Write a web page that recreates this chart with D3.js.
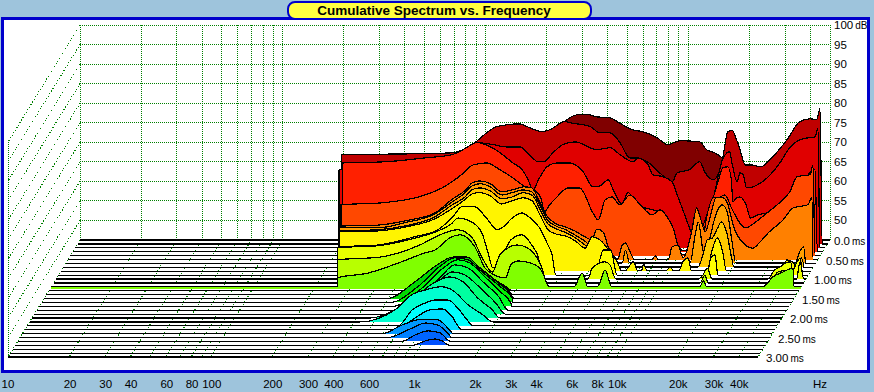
<!DOCTYPE html>
<html>
<head>
<meta charset="utf-8">
<title>Cumulative Spectrum vs. Frequency</title>
<script src="https://cdnjs.cloudflare.com/ajax/libs/d3/7.8.5/d3.min.js"></script>
<style>
  body { margin: 0; background: #9ec4dc; }
  text { font-family: "Liberation Sans", Arial, sans-serif; fill: #000; }
</style>
</head>
<body>
<div id="chart-area"></div>
<script>
// axis values
const titleText = 'Cumulative Spectrum vs. Frequency';
const dbTicks = [100, 95, 90, 85, 80, 75, 70, 65, 60, 55, 50];
const timeTicks = [0, 0.5, 1, 1.5, 2, 2.5, 3];
const freqLabels = [10, 20, 30, 40, 60, 80, 100, 200, 300, 400, 600, 1000, 2000, 3000, 4000, 6000, 8000, 10000, 20000, 30000, 40000];
const freqGrid = [10, 20, 30, 40, 50, 60, 70, 80, 90, 100, 200, 300, 400, 500, 600, 700, 800, 900, 1000,
  2000, 3000, 4000, 5000, 6000, 7000, 8000, 9000, 10000, 20000, 30000, 40000, 50000];

// one list of [Hz, dB] per decay slice, 0.1 ms apart
const t00 = [[200,64.2],[660,65.5],[1170,71.9],[1850,70.6],[2330,73.7],[2460,75.3],[2920,77.1],[3200,77.1],[3530,76.5],[4100,76.3],[4550,75],[5300,73.2],[5950,72.7],[7000,71.2],[7900,69.4],[9100,70.4],[11400,70.1],[12300,68.1],[13500,67.3],[14700,66],[15700,64.2],[17000,60.4],[19000,57.8],[22500,57.8],[35500,60.4],[43500,63],[45800,45]];
const t01 = [[200,67.8],[515,68.1],[700,68.3],[795,69.1],[910,70.9],[1040,73.4],[1170,75],[1510,75.7],[1700,74.7],[1950,73.7],[2130,74.2],[2530,76.3],[2680,76],[3380,75],[3770,73.4],[4230,73.4],[4730,70.9],[5290,67],[5730,67],[6460,66],[7600,62.7],[8580,60.9],[9050,63.2],[10400,64],[11700,66],[12400,63.4],[13600,61.4],[14400,62.7],[15200,67],[16100,73.7],[16900,74],[17800,71.6],[18500,69.1],[19600,65.2],[21200,65.2],[23300,64.7],[26800,67.3],[31500,71.6],[36500,76.3],[40900,77],[44200,76.8],[45900,79.6],[47000,45]];
const t02 = [[200,64.9],[820,68.8],[960,71.9],[1150,71.4],[1340,70.8],[1560,70.8],[1740,68.8],[1920,67],[2040,67],[2270,69.3],[2540,71.4],[2920,72.1],[3740,70.1],[4350,70.6],[4870,68.8],[5640,67],[5960,68],[6700,66.2],[7050,63.7],[7900,63.2],[8770,61.9],[9400,58],[10800,49.6],[11700,45.2],[12400,48.3],[13800,56],[15700,68],[16400,69.3],[16900,69.6],[17300,67],[18400,61.9],[19000,64.2],[19700,63.7],[20500,60.3],[24500,61.9],[29900,66.7],[33400,70.6],[38800,72.9],[44600,73.4],[46100,75.7],[47000,45]];
const t03 = [[213,67.7],[347,68],[546,69],[740,69.8],[840,71.1],[985,72.9],[1150,71.8],[1320,69.8],[1480,67.7],[1650,65.9],[1760,63.4],[1860,60.8],[1980,63.4],[2180,66.7],[2450,67.7],[2830,67.7],[3290,65.4],[3670,61.6],[3980,61.8],[4370,63.4],[4630,60.8],[5100,57.2],[5480,60.1],[5920,57.7],[6420,56.5],[7260,55.7],[8050,55.2],[9020,50.6],[9640,46.7],[10200,45.2],[12000,48],[13400,54.4],[14400,58.8],[15200,62.9],[16100,66.5],[17000,66.7],[17700,63.4],[18000,57.7],[18800,58.8],[19500,59],[20900,57],[22000,53.6],[23800,54.4],[26400,54.9],[32400,57],[38500,60.8],[44800,66],[45800,66],[47000,45]];
const t04 = [[216,58],[344,58.5],[520,60],[680,62.3],[850,65.7],[970,68.2],[1130,68.7],[1310,67],[1520,64.9],[1760,62.6],[1900,62.1],[2090,59.8],[2180,56.2],[2310,58],[2510,60],[2840,62.3],[3250,62.3],[3780,55.9],[4010,54.1],[4340,59.3],[4700,60],[5120,58],[5750,60.5],[6470,58],[7400,55.4],[8100,56.7],[8850,54.6],[9450,51.6],[9900,47.7],[10500,45.2],[12700,45.2],[13800,55.4],[14800,59.8],[15600,59.8],[16900,60.5],[18400,56.7],[21300,52.1],[24700,54.1],[26500,55.4],[30600,58],[35300,61.3],[38400,65.2],[44500,65.7],[46000,68.2],[47000,45]];
const t05 = [[219,53.6],[338,53.8],[460,54.9],[645,56.9],[780,60.3],[915,62.8],[985,64.6],[1075,65.1],[1210,64.4],[1380,62.3],[1550,62.8],[1770,63.6],[1940,63.3],[2120,59.7],[2320,55.9],[2560,54.1],[2850,53.3],[3160,52.3],[3540,50.8],[3840,50],[4060,52.8],[4360,52],[4620,48.2],[4900,45.9],[5140,45.1],[5400,48.5],[5620,49.2],[5910,47],[6220,45],[7570,45],[7880,45.9],[8150,45],[9130,45],[9530,48.2],[10200,48.7],[10800,45.4],[11300,47.4],[11950,52.6],[12600,58.2],[13100,55.9],[13900,52.1],[14700,55.9],[15700,60.8],[17000,60.8],[18000,59],[19000,54.1],[21400,49.2],[23800,47.9],[25900,49.5],[28400,51.8],[33600,55.1],[37700,58.2],[44500,59],[46700,60.8],[47200,45]];
const t06 = [[224,54.3],[348,54.1],[470,55.4],[665,57.7],[805,60.7],[935,63.1],[1010,64.8],[1110,65.4],[1240,64.6],[1420,62.5],[1590,63.1],[1800,63.8],[1990,63.3],[2190,59.7],[2380,56.1],[2610,54.6],[2930,53.6],[3240,52.3],[3640,50.7],[3860,49.7],[4080,50.2],[4470,48.4],[4860,45.1],[5560,45.1],[5770,48.4],[6060,45.1],[12000,45.1],[12800,53],[13200,55.6],[13900,48.4],[14400,46.4],[15000,51],[16100,57.4],[17300,60],[18300,58.2],[19300,51],[20200,45.1],[39600,45.1],[42100,48.4],[43600,49.2],[44500,45.1]];
const t07 = [[230,54.3],[357,54.6],[485,55.6],[680,57.9],[830,61],[960,63],[1035,64.8],[1130,65.3],[1270,64.6],[1460,62.5],[1640,63],[1860,64.1],[2070,63.3],[2250,59.7],[2460,56.1],[2710,54.8],[3040,53.8],[3360,52.5],[3740,50.7],[4050,48.9],[4440,45.1],[13500,45.1],[14500,49.4],[15000,52],[15900,52.5],[16900,55.1],[17600,56.6],[18700,54],[19800,47.4],[20300,45.1],[42300,45.1],[43700,47.4],[45000,45.1]];
const t08 = [[236,55.1],[365,55.3],[500,56.3],[700,58.4],[850,61],[985,63.3],[1070,64.8],[1170,65.1],[1310,64.3],[1490,62.2],[1680,63],[1910,63.8],[2110,63],[2310,59.4],[2530,55.6],[2770,54.5],[3100,54],[3460,52.7],[3850,50.9],[4170,53.8],[4860,51.5],[5120,49.7],[5560,47.4],[5830,45.1],[6050,45.1],[6670,47.4],[7000,45.1],[7300,45.1],[7500,46.8],[7800,45.1],[9650,45.1],[10150,46.1],[10500,45.1],[11150,45.1],[11700,47.4],[12400,48.4],[12900,45.1],[15400,45.1],[16300,50.4],[17300,53.5],[18300,50.4],[19200,45.1],[36400,45.1],[38000,47.9],[40400,47.4],[42900,45.1]];
const t09 = [[243,52.2],[378,52.7],[570,54.8],[745,56.6],[880,59.9],[980,62.5],[1130,62.5],[1300,59.4],[1460,56.6],[1560,57.3],[1730,59.6],[1930,60.9],[2090,59.9],[2360,57.1],[2570,53.2],[2720,50.2],[2840,45],[4420,45],[4880,51.4],[5290,51.4],[5700,45],[15800,45],[16500,49.4],[17300,50.2],[17900,45],[40600,45],[44000,48.4],[45500,49.4],[47000,45]];
const t10 = [[245,53],[385,53.5],[595,55.5],[765,57.3],[890,59.1],[960,60.6],[1120,59.6],[1260,56.8],[1340,52.4],[1430,47.8],[1580,50.6],[1750,55],[1990,56.3],[2220,53.7],[2370,51.2],[2570,45],[4200,45],[4410,47.8],[5100,49.4],[5400,48.6],[5760,45],[14700,45],[15500,46],[16300,47.8],[17200,45],[32400,45],[35000,47.3],[37200,48.1],[39700,49.1],[41900,49.4],[43500,45],[44900,45],[46700,49.4],[48800,45]];
const t11 = [[252,50.9],[407,51.6],[640,54.7],[805,57.3],[985,58.6],[1160,56.5],[1300,51.4],[1460,47.8],[1590,52.2],[1930,54.7],[2180,53.9],[2530,49.6],[2720,45],[15400,45],[16300,47],[16900,45],[34000,45],[37400,47.8],[43000,48.3],[44300,45]];
const t12 = [[258,47.3],[364,48.5],[535,51.4],[700,53.7],[780,54.4],[945,57.8],[1040,58.3],[1230,55.2],[1380,49.8],[1500,48.3],[1740,47.3],[1850,50.6],[2000,51.6],[2440,50.6],[2660,48.5],[2810,45.4],[2880,45],[3790,45],[4150,48.5],[4440,45],[4940,45],[5400,49.3],[5800,45],[15800,45],[16500,46.5],[17100,45],[32300,45],[36200,47.5],[40700,48.8],[45500,49.8],[46100,45]];
const t13 = [[615,45],[720,48.5],[800,50.8],[930,53.1],[1100,53.6],[1310,51.1],[1530,48.3],[1800,46],[1930,45]];
const t14 = [[590,45],[740,49],[840,52.1],[980,54.4],[1160,54.6],[1380,51.8],[1640,48.7],[1900,46.2],[2000,45]];
const t15 = [[495,45],[665,49],[870,53.6],[1040,55.6],[1220,55.6],[1410,52.8],[1720,49.2],[1990,46.4],[2080,45]];
const t16 = [[525,45],[720,49.1],[925,54.3],[1090,56.4],[1265,55.9],[1490,52.8],[1830,49],[2090,46.1],[2110,45]];
const t17 = [[555,45],[755,49.2],[985,54.8],[1160,56.9],[1330,56.1],[1580,52.5],[1880,48.7],[2120,45.8],[2140,45]];
const t18 = [[600,45],[780,48.6],[975,53.3],[1150,56.6],[1340,55.8],[1590,52.2],[1900,48.4],[2110,45]];
const t19 = [[600,45],[800,48.6],[980,53.2],[1150,55.8],[1330,55],[1580,51.7],[1880,47.9],[2100,45]];
const t20 = [[465,45],[615,47],[775,50.4],[975,54.2],[1150,55.5],[1340,54.2],[1580,50.1],[1870,47],[2030,45]];
const t21 = [[425,45],[635,48.1],[770,52],[900,53.2],[1075,54],[1210,53.2],[1460,49.3],[1700,47],[1930,45]];
const t22 = [[675,45],[790,49],[915,50.8],[1030,51.6],[1190,51.6],[1330,49.5],[1480,46.5],[1580,45]];
const t23 = [[670,45],[840,48],[1000,50.1],[1150,50.3],[1270,48.6],[1430,45]];
const t24 = [[595,45],[745,47.2],[935,48.7],[1120,48.5],[1280,45.9],[1330,45]];
const t25 = [[650,45],[840,47.2],[1000,48.7],[1150,48.2],[1310,45.6],[1340,45]];
const t26 = [[785,45],[910,46.6],[1060,47.7],[1210,47.2],[1370,45]];
const t27 = [[915,45],[1050,46.1],[1180,46.6],[1280,46.1],[1380,45]];
const sliceLevels = [t00, t01, t02, t03, t04, t05, t06, t07, t08, t09, t10, t11, t12, t13, t14, t15,
  t16, t17, t18, t19, t20, t21, t22, t23, t24, t25, t26, t27, [], [], []];
const sliceColors = ['#800000', '#c00000', '#e00000', '#ff2000', '#ff4800', '#ff8000', '#ffa000', '#ffc800',
  '#fff400', '#ffff00', '#e8ff00', '#b8ff00', '#80ff00', '#00c000', '#00c800', '#00d800', '#00f000', '#00ff20',
  '#00ff50', '#00ff78', '#00ffa0', '#00ffd0', '#00ffff', '#00e0ff', '#0098ff', '#0080ff', '#0064ff', '#0050ff',
  '#0050ff', '#0050ff', '#0050ff'];
const groundSlice = 12;

const width = 874;
const height = 392;
const floorDb = 45;
const gridGreen = '#008000';
const frameBlue = '#0000cc';

const svg = d3.select('#chart-area')
  .append('svg')
  .attr('width', width)
  .attr('height', height)
  .style('display', 'block');

// setup scales
const x = d3.scaleLog().domain([10, 50000]).range([80, 830]);
const y = d3.scaleLinear().domain([floorDb, 100]).range([240, 25]);
const depthX = d3.scaleLinear().domain([0, 3]).range([0, -72]);
const depthY = d3.scaleLinear().domain([0, 3]).range([0, 117]);
const freqFormat = f => f >= 1000 ? `${f / 1000}k` : `${f}`;

// plot frame
svg.append('rect')
  .attr('x', 2)
  .attr('y', 18.5)
  .attr('width', 866)
  .attr('height', 352.5)
  .attr('fill', '#fff')
  .attr('stroke', frameBlue)
  .attr('stroke-width', 3)
  .attr('shape-rendering', 'crispEdges');

// title pill
svg.append('rect')
  .attr('x', 288)
  .attr('y', 2)
  .attr('width', 303)
  .attr('height', 17)
  .attr('rx', 7)
  .attr('fill', '#ffff40')
  .attr('stroke', frameBlue)
  .attr('stroke-width', 2);
svg.append('text')
  .attr('x', 434)
  .attr('y', 15)
  .attr('text-anchor', 'middle')
  .attr('font-size', '13.5px')
  .attr('font-weight', 'bold')
  .text(titleText);

// dotted grid: back wall, side wall, floor
const grid = svg.append('g')
  .attr('stroke', gridGreen)
  .attr('stroke-width', 1)
  .attr('fill', 'none')
  .attr('shape-rendering', 'crispEdges');
const gridLine = (x1, y1, x2, y2, dash) => grid.append('line')
  .attr('x1', x1).attr('y1', y1).attr('x2', x2).attr('y2', y2)
  .attr('stroke-dasharray', dash);

dbTicks.forEach(db => {
  gridLine(x(10), y(db), x(50000), y(db), '1 1');
  gridLine(x(10), y(db), x(10) + depthX(3), y(db) + depthY(3), '1 2');
});
freqGrid.forEach(f => {
  gridLine(x(f), y(100), x(f), y(floorDb), '1 1');
  gridLine(x(f), y(floorDb), x(f) + depthX(3), y(floorDb) + depthY(3), '1 2');
});
gridLine(x(10) + depthX(3), y(100) + depthY(3), x(10) + depthX(3), y(floorDb) + depthY(3), '1 1');
gridLine(x(10) + depthX(3), y(floorDb) + depthY(3), x(50000) + depthX(3), y(floorDb) + depthY(3), '1 1');

// waterfall, back slice first so the nearer ones cover it
const drawSlice = (levels, i) => {
  const t = i / 10;
  const px = d => x(d[0]) + depthX(t);
  const py = d => y(d[1]) + depthY(t);
  const floorY = y(floorDb) + depthY(t);
  const points = levels.length
    ? [[10, floorDb], [levels[0][0], floorDb], ...levels, [levels[levels.length - 1][0], floorDb], [50000, floorDb]]
    : [[10, floorDb], [50000, floorDb]];
  const g = svg.append('g')
    .attr('class', 'slice')
    .attr('shape-rendering', 'crispEdges');

  g.append('path')
    .datum(points)
    .attr('fill', sliceColors[i])
    .attr('d', d3.area().curve(d3.curveMonotoneX).x(px).y0(floorY).y1(py));
  if (i === groundSlice) {
    g.append('line')
      .attr('x1', x(10) + depthX(t))
      .attr('x2', x(50000) + depthX(t))
      .attr('y1', floorY + 1)
      .attr('y2', floorY + 1)
      .attr('stroke', sliceColors[i])
      .attr('stroke-width', 2);
  }
  g.append('path')
    .datum(points)
    .attr('fill', 'none')
    .attr('stroke', '#000')
    .attr('stroke-width', 1.2)
    .attr('d', d3.line().curve(d3.curveMonotoneX).x(px).y(py));
};
sliceLevels.forEach(drawSlice);

// dB labels on the right
const tickText = (sel, small) => sel.append('tspan')
  .attr('font-size', '10px')
  .attr('dx', 2)
  .text(small);

dbTicks.forEach(db => {
  const label = svg.append('text')
    .attr('x', 834)
    .attr('y', y(db) + 4)
    .attr('font-size', '11.5px')
    .text(db);
  if (db === 100) tickText(label, 'dB');
});

// time labels along the right floor edge
timeTicks.forEach(t => {
  const label = svg.append('text')
    .attr('x', t === 0 ? 834 : x(50000) + depthX(t) + 8)
    .attr('y', y(floorDb) + depthY(t) + 5)
    .attr('font-size', '11.5px')
    .text(t === 0 ? '0.0' : t.toFixed(2));
  tickText(label, 'ms');
});

// frequency labels under the front edge
freqLabels.forEach(f => {
  svg.append('text')
    .attr('x', x(f) + depthX(3) + (f > 10 ? 1 : 0))
    .attr('y', 388)
    .attr('text-anchor', 'middle')
    .attr('font-size', '11.5px')
    .text(freqFormat(f));
});
svg.append('text')
  .attr('x', 820)
  .attr('y', 388)
  .attr('text-anchor', 'middle')
  .attr('font-size', '11.5px')
  .text('Hz');
</script>
</body>
</html>
